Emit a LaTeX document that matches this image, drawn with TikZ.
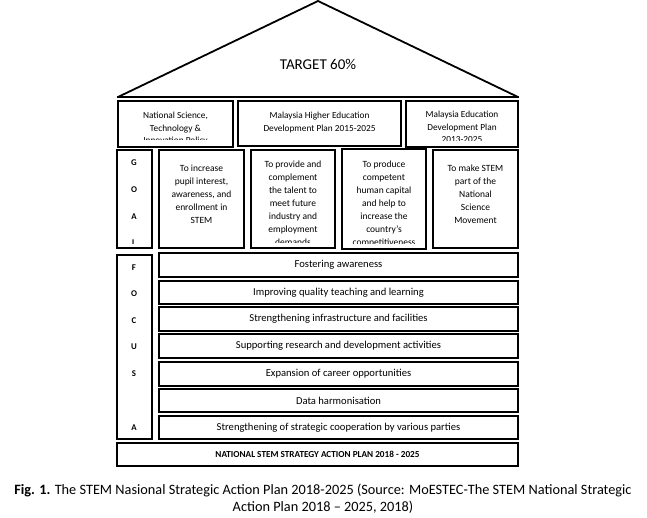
\documentclass[tikz,border=0pt]{standalone}
\usepackage{fontspec}
\setmainfont{Carlito}
\usetikzlibrary{fit}
\tikzset{
  box/.style={draw=black, line width=1.8pt, inner sep=0pt, fill=white},
  boxtxt/.style={align=center, inner sep=0pt, font=\fontsize{9.5}{13}\selectfont, anchor=north},
  toptxt/.style={align=center, inner sep=0pt, font=\fontsize{9.3}{12.5}\selectfont, anchor=north},
  rowtxt/.style={inner sep=0pt, font=\fontsize{10.6}{12}\selectfont},
  letter/.style={inner sep=0pt, font=\bfseries\fontsize{8.8}{10}\selectfont},
}
\newcommand\mkbox[5]{\node[box, fit={(#2,#3) (#4,#5)}] (#1) {};}
\newcommand\inclip[2]{\clip ([yshift=#2]#1.south west) rectangle (#1.north east);}
\begin{document}
\begin{tikzpicture}[x=1pt,y=-1pt]
\useasboundingbox[fill=white] (0,0) rectangle (647,517);
% roof
\coordinate (rl) at (118,97);
\coordinate (apex) at (318,1);
\coordinate (rr) at (518,97);
\draw[line width=1.8pt, line join=miter] (rl) -- (apex) -- (rr);
\draw[line width=2.8pt] ([xshift=-1pt]rl) -- ([xshift=1pt]rr);
\node[font=\fontsize{15}{17}\selectfont, inner sep=0pt] (target) at (318,64) {TARGET 60\%};
% row 1
\mkbox{p1}{118}{101}{233}{147}
\mkbox{p2}{238}{101}{401}{146}
\mkbox{p3}{406}{101}{518}{147}
\begin{scope}\inclip{p1}{8.5pt}
\node[toptxt] (t1) at ([yshift=-12pt]p1.north) {National Science,\\Technology \&\\Innovation Policy};\end{scope}
\node[toptxt] (t2) at ([yshift=-12pt]p2.north) {Malaysia Higher Education\\Development Plan 2015-2025};
\begin{scope}\inclip{p3}{7.5pt}
\node[toptxt] (t3) at ([yshift=-11pt]p3.north) {Malaysia Education\\Development Plan\\2013-2025};\end{scope}
% goals
\mkbox{goal}{117}{150}{152}{248}
\mkbox{ga}{159}{150}{244}{248}
\mkbox{gb}{251}{150}{335}{248}
\mkbox{gc}{342}{149}{426}{249}
\mkbox{gd}{433}{150}{518}{248}
\node[letter] (lg) at (134,163) {G};
\node[letter] (lo) at (134,190) {O};
\node[letter] (la) at (134,217) {A};
\begin{scope}\inclip{goal}{5.5pt}
\node[letter] (ll) at (134,243) {L};\end{scope}
\node[boxtxt] (tga) at ([yshift=-15.5pt]ga.north) {To increase\\pupil interest,\\awareness, and\\enrollment in\\STEM};
\begin{scope}\inclip{gb}{6pt}
\node[boxtxt] (tgb) at ([yshift=-11.5pt]gb.north) {To provide and\\complement\\the talent to\\meet future\\industry and\\employment\\demands};\end{scope}
\begin{scope}\inclip{gc}{6pt}
\node[boxtxt] (tgc) at ([yshift=-12.5pt]gc.north) {To produce\\competent\\human capital\\and help to\\increase the\\country's\\competitiveness};\end{scope}
\node[boxtxt] (tgd) at ([yshift=-15.5pt]gd.north) {To make STEM\\part of the\\National\\Science\\Movement};
% focus
\mkbox{focus}{117}{255}{152}{439}
\node[letter] (lf) at (134,268) {F};
\node[letter] (lo2) at (134,294) {O};
\node[letter] (lc) at (134,321) {C};
\node[letter] (lu) at (134,347) {U};
\node[letter] (ls) at (134,374) {S};
\node[letter] (la2) at (134,428) {A};
\mkbox{f1}{159}{253}{518}{277}
\mkbox{f2}{159}{281}{518}{304}
\mkbox{f3}{159}{307}{518}{331}
\mkbox{f4}{159}{334}{518}{358}
\mkbox{f5}{159}{362}{518}{386}
\mkbox{f6}{159}{389}{518}{412}
\mkbox{f7}{159}{416}{518}{439}
\node[rowtxt] (tf1) at (f1) {Fostering awareness};
\node[rowtxt] (tf2) at (f2) {Improving quality teaching and learning};
\node[rowtxt] (tf3) at (f3) {Strengthening infrastructure and facilities};
\node[rowtxt] (tf4) at (f4) {Supporting research and development activities};
\node[rowtxt] (tf5) at (f5) {Expansion of career opportunities};
\node[rowtxt] (tf6) at (f6) {Data harmonisation};
\node[rowtxt] (tf7) at (f7) {Strengthening of strategic cooperation by various parties};
% base
\mkbox{base}{117}{443}{518}{466}
\node[inner sep=0pt, font=\bfseries\fontsize{9.2}{10}\selectfont] (tbase) at (base) {NATIONAL STEM STRATEGY ACTION PLAN 2018 - 2025};
% caption
\node[inner sep=0pt, align=center, font=\fontsize{14.3}{17}\selectfont] (cap) at (323,499) {\textbf{Fig. 1.} The STEM Nasional Strategic Action Plan 2018-2025 (Source: MoESTEC-The STEM National Strategic\\Action Plan 2018 -- 2025, 2018)};
\end{tikzpicture}
\end{document}
